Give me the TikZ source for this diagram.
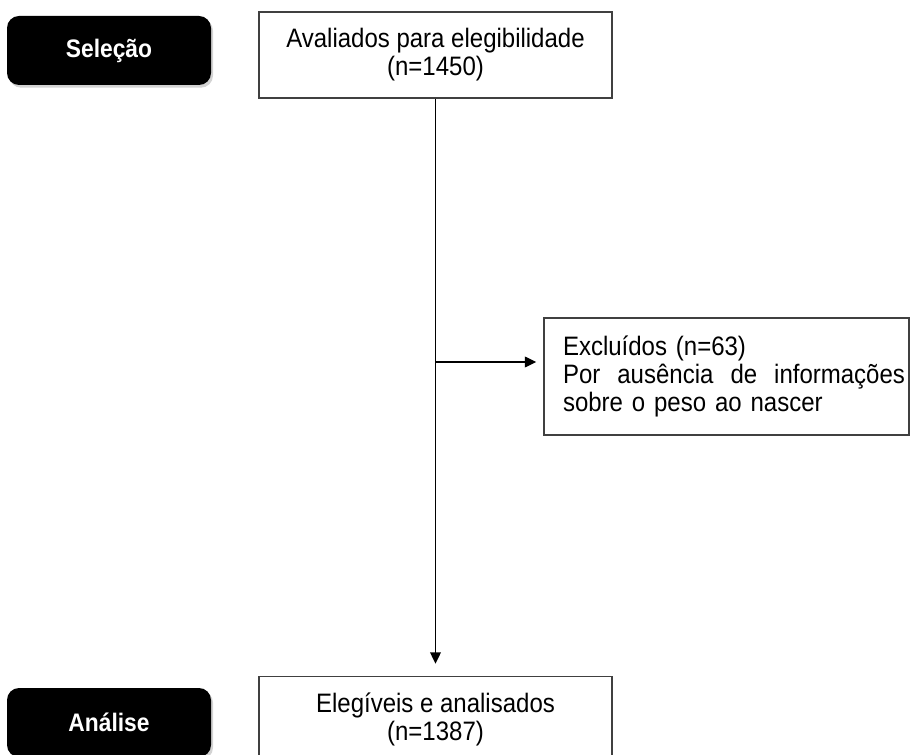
\documentclass[tikz,border=0pt]{standalone}
\usepackage{fontspec}
\setmainfont{Liberation Sans}[FakeStretch=0.9]
\usetikzlibrary{positioning,arrows.meta,shadows}

\begin{document}
\begin{tikzpicture}[
    x=0.75pt, y=-0.75pt,
    box/.style={rectangle, draw=black!75, line width=1.1pt, minimum width=264.75pt, minimum height=64.5pt, align=center, font=\fontsize{20}{21}\selectfont},
    phase/.style={rectangle, rounded corners=9pt, fill=black, text=white, minimum width=153pt, minimum height=51.75pt, font=\fontsize{19}{21}\selectfont\bfseries, drop shadow={shadow xshift=1.5pt, shadow yshift=-2pt, opacity=0.35}},
    arrow/.style={-{Triangle[length=8.5pt,width=8pt]}, line width=1pt}
]
\useasboundingbox (0,0) rectangle (913,755);

% Phase labels
\node[phase] (selecao) at (109,50.5) {Seleção};
\node[phase] (analise) at (109,722.5) {Análise};

% Flow boxes
\node[box] (avaliados) at (435.5,55) {Avaliados para elegibilidade\\(n=1450)};
\node[box, below=432.75pt of avaliados] (elegiveis) {Elegíveis e analisados\\(n=1387)};
\node[box, minimum width=273.75pt, minimum height=87.75pt, text width=267.75pt, inner xsep=3pt, align=left] (excluidos) at (726.5,376.5)
    {\hspace*{11.25pt}Excluídos (n=63)\\
     \hspace*{11.25pt}Por\hfill ausência\hfill de\hfill informações\\
     \hspace*{11.25pt}sobre o peso ao nascer};

% Branch point on the main line
\coordinate (ramo) at (435.5,362);

% Arrows
\draw[arrow, shorten >=9pt] (avaliados) -- (elegiveis);
\draw[arrow, shorten >=5.25pt] (ramo) -- (ramo -| excluidos.west);

\end{tikzpicture}
\end{document}
